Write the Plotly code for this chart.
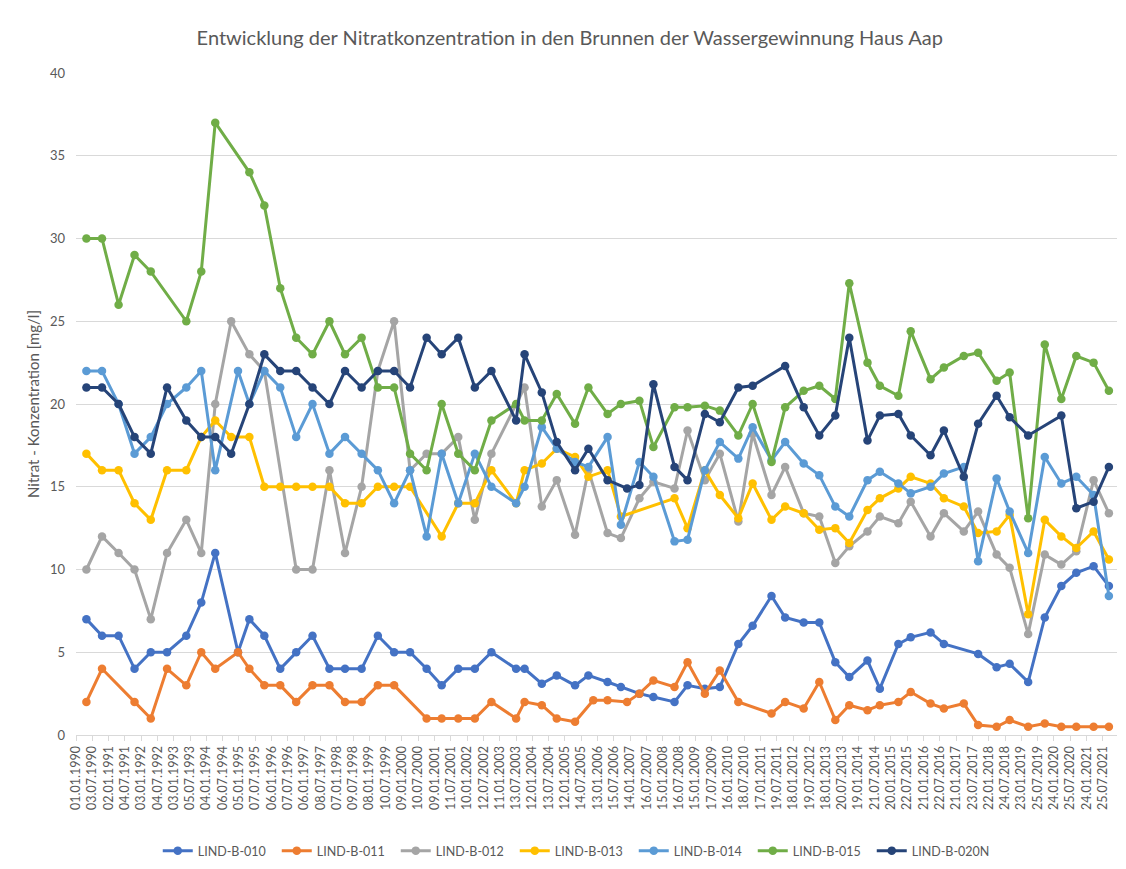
import pandas as pd
import plotly.graph_objects as go

# Sample dates (decimal years)
sample_years = [1990.32, 1990.80, 1991.31, 1991.80, 1992.30, 1992.80, 1993.39, 1993.85, 1994.28, 1994.77,
                1994.98, 1995.33, 1995.79, 1996.28, 1996.77, 1997.27, 1997.79, 1998.27, 1998.78, 1999.28,
                1999.78, 2000.27, 2000.78, 2001.24, 2001.75, 2002.26, 2002.77, 2003.53, 2003.79, 2004.32,
                2004.78, 2005.34, 2005.75, 2005.90, 2006.34, 2006.75, 2006.94, 2007.32, 2007.75, 2008.40,
                2008.80, 2009.33, 2009.79, 2010.36, 2010.80, 2011.38, 2011.80, 2012.37, 2012.85, 2013.34,
                2013.77, 2014.33, 2014.71, 2015.28, 2015.66, 2016.27, 2016.68, 2017.29, 2017.73, 2018.30,
                2018.70, 2019.27, 2019.78, 2020.29, 2020.75, 2021.28, 2021.75]

N = None
lind_b_010 = [7, 6, 6, 4, 5, 5, 6, 8, 11, N,
              5, 7, 6, 4, 5, 6, 4, 4, 4, 6,
              5, 5, 4, 3, 4, 4, 5, 4, 4, 3.1,
              3.6, 3, 3.6, N, 3.2, 2.9, N, 2.5, 2.3, 2.0,
              3.0, 2.8, 2.9, 5.5, 6.6, 8.4, 7.1, 6.8, 6.8, 4.4,
              3.5, 4.5, 2.8, 5.5, 5.9, 6.2, 5.5, N, 4.9, 4.1,
              4.3, 3.2, 7.1, 9.0, 9.8, 10.2, 9.0]
lind_b_011 = [2, 4, N, 2, 1, 4, 3, 5, 4, N,
              5, 4, 3, 3, 2, 3, 3, 2, 2, 3,
              3, N, 1, 1, 1, 1, 2, 1, 2, 1.8,
              1, 0.8, N, 2.1, 2.1, N, 2.0, 2.5, 3.3, 2.9,
              4.4, 2.5, 3.9, 2.0, N, 1.3, 2.0, 1.6, 3.2, 0.9,
              1.8, 1.5, 1.8, 2.0, 2.6, 1.9, 1.6, 1.9, 0.6, 0.5,
              0.9, 0.5, 0.7, 0.5, 0.5, 0.5, 0.5]
lind_b_012 = [10, 12, 11, 10, 7, 11, 13, 11, 20, 25,
              N, 23, 22, N, 10, 10, 16, 11, 15, 22,
              25, 16, 17, 17, 18, 13, 17, N, 21, 13.8,
              15.4, 12.1, 16, N, 12.2, 11.9, N, 14.3, 15.3, 14.9,
              18.4, 15.4, 17, 12.9, 18.2, 14.5, 16.2, 13.4, 13.2, 10.4,
              11.4, 12.3, 13.2, 12.8, 14.1, 12, 13.4, 12.3, 13.5, 10.9,
              10.1, 6.1, 10.9, 10.3, 11.1, 15.4, 13.4]
lind_b_013 = [17, 16, 16, 14, 13, 16, 16, 18, 19, 18,
              N, 18, 15, 15, 15, 15, 15, 14, 14, 15,
              15, 15, N, 12, 14, 14, 16, 14, 16, 16.4,
              17.3, 16.8, 15.6, N, 16, 13.2, N, N, N, 14.3,
              12.5, 16, 14.5, 13.1, 15.2, 13, 13.8, 13.4, 12.4, 12.5,
              11.6, 13.6, 14.3, 14.9, 15.6, 15.2, 14.3, 13.8, 12.2, 12.3,
              13.3, 7.3, 13, 12, 11.3, 12.3, 10.6]
lind_b_014 = [22, 22, 20, 17, 18, 20, 21, 22, 16, N,
              22, 20, 22, 21, 18, 20, 17, 18, 17, 16,
              14, 16, 12, 17, 14, 17, 15, 14, 15, 18.6,
              17.3, 16.5, 16.2, N, 18, 12.7, N, 16.5, 15.6, 11.7,
              11.8, 16, 17.7, 16.7, 18.6, 16.6, 17.7, 16.4, 15.7, 13.8,
              13.2, 15.4, 15.9, 15.2, 14.6, 15, 15.8, 16.2, 10.5, 15.5,
              13.5, 11, 16.8, 15.2, 15.6, 14.5, 8.4]
lind_b_015 = [30, 30, 26, 29, 28, N, 25, 28, 37, N,
              N, 34, 32, 27, 24, 23, 25, 23, 24, 21,
              21, 17, 16, 20, 17, 16, 19, 20, 19, 19,
              20.6, 18.8, 21, N, 19.4, 20, N, 20.2, 17.4, 19.8,
              19.8, 19.9, 19.6, 18.1, 20, 16.5, 19.8, 20.8, 21.1, 20.3,
              27.3, 22.5, 21.1, 20.5, 24.4, 21.5, 22.2, 22.9, 23.1, 21.4,
              21.9, 13.1, 23.6, 20.3, 22.9, 22.5, 20.8]
lind_b_020n = [21, 21, 20, 18, 17, 21, 19, 18, 18, 17,
               N, 20, 23, 22, 22, 21, 20, 22, 21, 22,
               22, 21, 24, 23, 24, 21, 22, 19, 23, 20.7,
               17.7, 16, 17.3, N, 15.4, N, 14.9, 15.1, 21.2, 16.2,
               15.4, 19.4, 18.9, 21, 21.1, N, 22.3, 19.8, 18.1, 19.3,
               24, 17.8, 19.3, 19.4, 18.1, 16.9, 18.4, 15.6, 18.8, 20.5,
               19.2, 18.1, N, 19.3, 13.7, 14.1, 16.2]

series_names = ["LIND-B-010", "LIND-B-011", "LIND-B-012", "LIND-B-013",
                "LIND-B-014", "LIND-B-015", "LIND-B-020N"]
series_values = [lind_b_010, lind_b_011, lind_b_012, lind_b_013,
                 lind_b_014, lind_b_015, lind_b_020n]
series_colors = ["#4472C4", "#ED7D31", "#A5A5A5", "#FFC000",
                 "#5B9BD5", "#70AD47", "#264478"]

tick_labels = ["01.01.1990", "03.07.1990", "02.01.1991", "04.07.1991", "03.01.1992", "04.07.1992",
               "03.01.1993", "05.07.1993", "04.01.1994", "06.07.1994", "05.01.1995", "07.07.1995",
               "06.01.1996", "07.07.1996", "06.01.1997", "08.07.1997", "07.01.1998", "09.07.1998",
               "08.01.1999", "10.07.1999", "09.01.2000", "10.07.2000", "09.01.2001", "11.07.2001",
               "10.01.2002", "12.07.2002", "11.01.2003", "13.07.2003", "12.01.2004", "13.07.2004",
               "12.01.2005", "14.07.2005", "13.01.2006", "15.07.2006", "14.01.2007", "16.07.2007",
               "15.01.2008", "16.07.2008", "15.01.2009", "17.07.2009", "16.01.2010", "18.07.2010",
               "17.01.2011", "19.07.2011", "18.01.2012", "19.07.2012", "18.01.2013", "20.07.2013",
               "19.01.2014", "21.07.2014", "20.01.2015", "22.07.2015", "21.01.2016", "22.07.2016",
               "21.01.2017", "23.07.2017", "22.01.2018", "24.07.2018", "23.01.2019", "25.07.2019",
               "24.01.2020", "25.07.2020", "24.01.2021", "25.07.2021"]


def year_to_date(y):
    yi = int(y)
    return pd.Timestamp(year=yi, month=1, day=1) + pd.Timedelta(days=(y - yi) * 365.25)


dates = [year_to_date(y) for y in sample_years]
tick_vals = [pd.to_datetime(t, format="%d.%m.%Y") for t in tick_labels]

FONT = "Lato, 'Open Sans', sans-serif"
GREY = "#595959"

fig = go.Figure()
for name, vals, col in zip(series_names, series_values, series_colors):
    fig.add_trace(go.Scatter(
        x=dates, y=vals, name=name, mode="lines+markers", connectgaps=True,
        line=dict(color=col, width=3),
        marker=dict(color=col, size=8.5, symbol="circle"),
    ))

fig.update_layout(
    width=1126, height=869,
    margin=dict(l=76, r=9, t=73, b=134),
    paper_bgcolor="white", plot_bgcolor="white",
    font=dict(family=FONT, color=GREY, size=13),
    title=dict(text="Entwicklung der Nitratkonzentration in den Brunnen der Wassergewinnung Haus Aap",
               font=dict(family=FONT, size=20, color=GREY),
               x=0.506, xref="container", xanchor="center",
               y=1 - 38 / 869, yref="container", yanchor="middle"),
    showlegend=True,
    legend=dict(orientation="h", xref="container", yref="container",
                x=0.51, xanchor="center", y=1 - 851 / 869, yanchor="middle",
                font=dict(family=FONT, size=12.5, color=GREY),
                entrywidth=74, entrywidthmode="pixels",
                bgcolor="rgba(0,0,0,0)"),
)

fig.update_xaxes(
    type="date", range=["1990-01-01", "2022-01-01"],
    tickmode="array", tickvals=tick_vals, ticktext=tick_labels,
    tickangle=-90, tickfont=dict(family=FONT, size=12.5, color=GREY),
    ticks="outside", ticklen=5, tickcolor="#D9D9D9", tickwidth=1,
    showgrid=False, showline=True, linecolor="#D9D9D9", linewidth=1,
    zeroline=False, fixedrange=True,
)
fig.update_yaxes(
    range=[0, 40], tickmode="array", tickvals=list(range(0, 45, 5)),
    tickfont=dict(family=FONT, size=13, color=GREY),
    showgrid=True, gridcolor="#D9D9D9", gridwidth=1,
    zeroline=False, showline=False, ticks="", ticklabelstandoff=10,
    title=dict(text="Nitrat - Konzentration [mg/l]", font=dict(family=FONT, size=15, color=GREY),
               standoff=6),
)

fig.write_html("out.html", config={"displayModeBar": False},
               post_script="document.body.style.margin='0';")
